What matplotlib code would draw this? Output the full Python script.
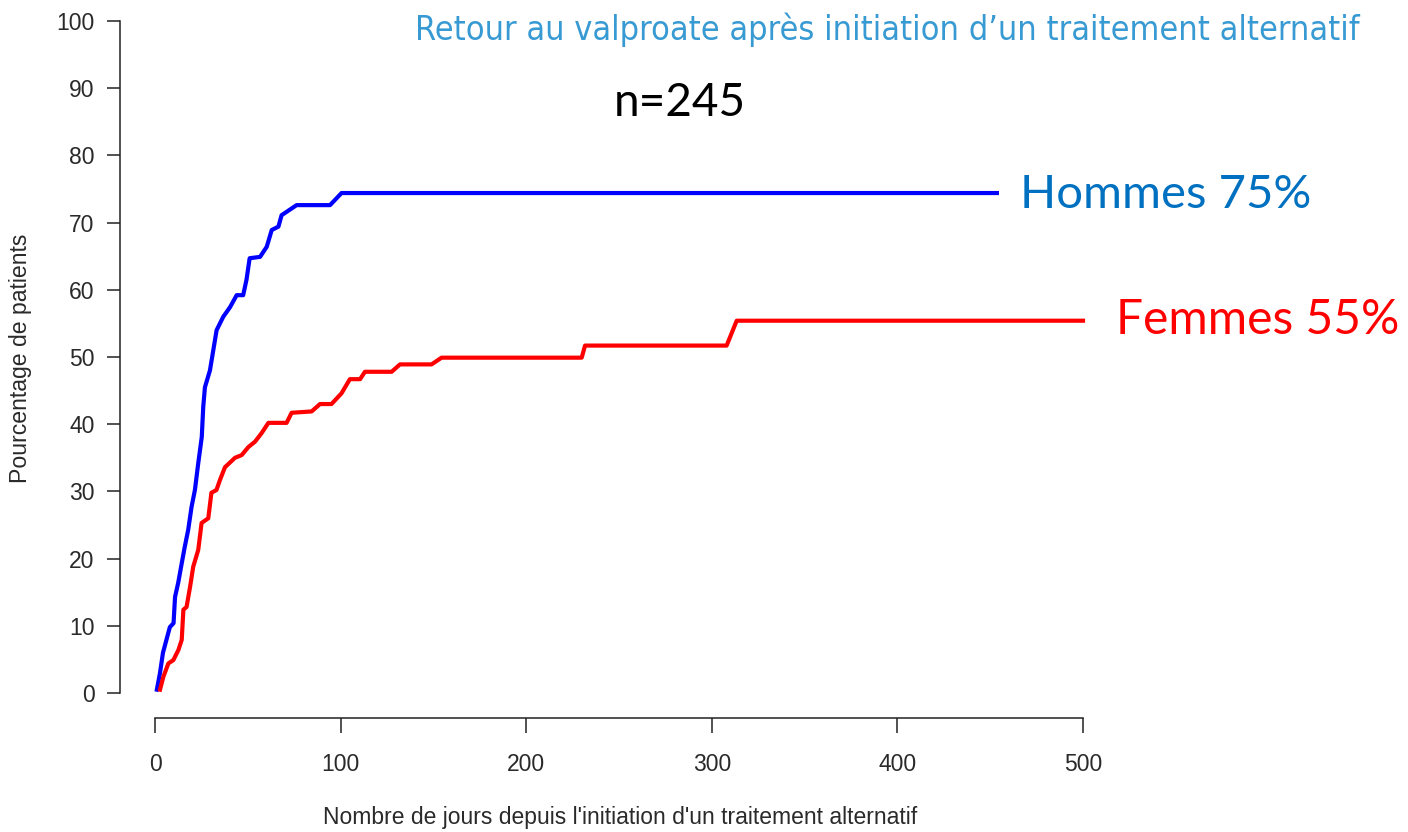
import matplotlib.pyplot as plt

# Cumulative return curves (days, % of patients)
hommes_days = [1, 2.7, 4.3, 8, 10, 10.8, 12.5, 14.4, 16, 17.9, 19.7, 21.5, 23.3, 25.2,
               26, 26.9, 29.6, 31.4, 33.2, 36.8, 40.4, 44, 47.5, 49.3, 51, 56.6, 60.2,
               62.9, 66.5, 68.2, 70.9, 76.3, 94.3, 100.5, 453.6]
hommes_pct = [0.5, 3, 6, 9.8, 10.4, 14.3, 16.4, 19.3, 21.7, 24.3, 27.7, 30.2, 34.2, 38.1,
              42.6, 45.5, 48, 51, 54, 56, 57.4, 59.2, 59.2, 61.5, 64.7, 64.9, 66.4,
              68.9, 69.4, 71.1, 71.6, 72.6, 72.6, 74.4, 74.4]

femmes_days = [2.7, 4.5, 7.2, 9.9, 12.6, 14.4, 15.3, 17, 18.9, 20.6, 23.3, 25.1, 28.7,
               30.4, 33.1, 35, 37.7, 43.1, 46.7, 50.3, 53.9, 57.5, 61.1, 70.9, 73.6,
               84.4, 88.9, 95.1, 100.5, 105, 110.5, 113.1, 127.5, 132, 149, 154.4,
               229.9, 231.7, 308, 313.4, 500]
femmes_pct = [0.5, 2.4, 4.4, 4.9, 6.4, 7.9, 12.4, 12.8, 15.8, 18.8, 21.3, 25.3, 26,
              29.8, 30.2, 31.7, 33.6, 35, 35.4, 36.6, 37.4, 38.7, 40.2, 40.2, 41.7,
              41.9, 43, 43, 44.6, 46.7, 46.7, 47.8, 47.8, 48.9, 48.9, 49.9,
              49.9, 51.7, 51.7, 55.4, 55.4]

x_ticks = [0, 100, 200, 300, 400, 500]
y_ticks = list(range(0, 101, 10))

title = "Retour au valproate après initiation d\u2019un traitement alternatif"
label_h = "Hommes 75%"
label_f = "Femmes 55%"
n_text = "n=245"

W, H = 1408, 832
fig = plt.figure(figsize=(W / 100, H / 100), dpi=100)
ax = fig.add_axes([155 / W, 1 - 693 / H, (1083 - 155) / W, (693 - 21) / H])

ax.plot(hommes_days, hommes_pct, color='#0000FF', lw=3, clip_on=False)
ax.plot(femmes_days, femmes_pct, color='#FF0000', lw=3, clip_on=False)

ax.set_xlim(0, 500)
ax.set_ylim(0, 100)
ax.set_xticks(x_ticks)
ax.set_yticks(y_ticks)

axis_font = ['Liberation Sans', 'DejaVu Sans']
for s in ['top', 'right']:
    ax.spines[s].set_visible(False)
ax.spines['left'].set_position(('outward', 25.2))
ax.spines['bottom'].set_position(('outward', 18))
ax.spines['left'].set_bounds(0, 100)
ax.spines['bottom'].set_bounds(0, 500)
for s in ['left', 'bottom']:
    ax.spines[s].set_linewidth(1.1)
    ax.spines[s].set_color('#222222')
ax.tick_params(axis='y', length=9.4, width=1.1, color='#222222', pad=9)
ax.tick_params(axis='x', length=10.5, width=1.1, color='#222222', pad=15)
for lab in ax.get_xticklabels() + ax.get_yticklabels():
    lab.set_family(axis_font)
    lab.set_fontsize(16.5)
    lab.set_color('#2a2a2a')

ax.set_xlabel("Nombre de jours depuis l'initiation d'un traitement alternatif",
              family=axis_font, fontsize=16.5, color='#2a2a2a')
ax.set_ylabel("Pourcentage de patients", family=axis_font, fontsize=16.6, color='#2a2a2a')
ax.xaxis.set_label_coords(0.501, -0.168)
ax.yaxis.set_label_coords(-0.1325, 0.4985)

ax.text(466, 74.1, label_h, color='#0070C0', fontsize=34, family=['Lato', 'DejaVu Sans'],
        ha='left', va='center')
ax.text(518, 55.5, label_f, color='#FF0000', fontsize=34.5, family=['Lato', 'DejaVu Sans'],
        ha='left', va='center')
ax.text(283, 87.8, n_text, color='black', fontsize=33, family=['Lato', 'DejaVu Sans'],
        ha='center', va='center')

# title is set in a condensed face in the original; shrink to the same width if needed
t = fig.text(415 / W, 1 - 30 / H, title, color='#389AD3', fontsize=28.5,
             family='DejaVu Sans', fontstretch='condensed',
             ha='left', va='center')
fig.canvas.draw()
wpx = t.get_window_extent().width
if wpx > 947:
    t.set_fontsize(28.5 * 947 / wpx)

fig.savefig('out.png', dpi=100)
